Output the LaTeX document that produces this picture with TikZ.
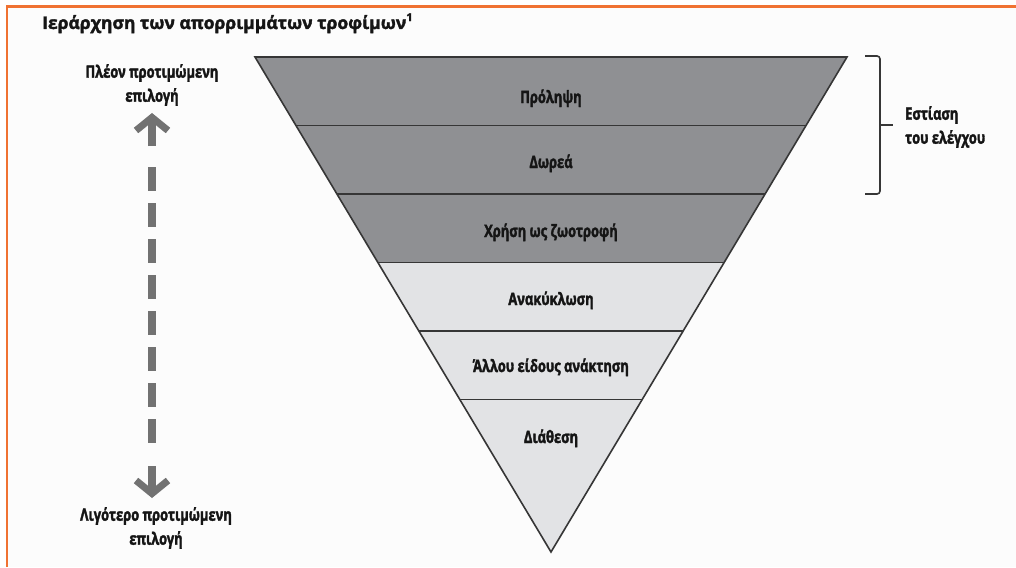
\documentclass[tikz,border=0pt]{standalone}
\usepackage{fontspec}
\setmainfont{Open Sans}
\newfontfamily\titlefont[FakeBold=2]{Open Sans}
\newfontfamily\condfont[FakeStretch=0.76,FakeBold=2]{Open Sans}
\usetikzlibrary{calc,arrows.meta}
\definecolor{bandDark}{HTML}{8F9093}
\definecolor{bandLight}{HTML}{E2E3E5}
\definecolor{edge}{HTML}{363636}
\definecolor{frameOrange}{HTML}{F07232}
\definecolor{arrowGray}{HTML}{727272}
\definecolor{ink}{HTML}{151515}
\tikzset{
  bandlabel/.style={anchor=base, text=ink, inner sep=0pt, font=\condfont\bfseries\fontsize{17}{25}\selectfont},
  sidelabel/.style={text=ink, inner sep=0pt, align=center, font=\condfont\bfseries\fontsize{17}{24}\selectfont},
  bandline/.style={draw=edge, line width=1.6pt},
  frame/.style={draw=frameOrange, line width=2.4pt},
  stem/.style={draw=arrowGray, line width=8pt},
  dashstem/.style={draw=arrowGray, line width=8pt, dash pattern=on 24pt off 12pt},
  tip/.style={-{Straight Barb[length=13pt,width=32pt,line width=7pt]}},
  bracket/.style={draw=edge, line width=1.6pt, rounded corners=3pt},
}
\begin{document}
\begin{tikzpicture}[x=1pt,y=-1pt]
\useasboundingbox (0,0) rectangle (1016,567);
\fill[white] (0,0) rectangle (1016,567);
\fill[black!1] (7,6.5) rectangle (1016,567);
\draw[frame] (7,567) -- (7,6.5) -- (1016,6.5);

% title
\node[anchor=base west, inner sep=0pt, text=ink, font=\titlefont\bfseries\fontsize{17.5}{20}\selectfont] (title) at (42,29)
  {Ιεράρχηση των απορριμμάτων τροφίμων\raisebox{0.45em}{\fontsize{11}{12}\selectfont 1}};

% inverted triangle
\coordinate (A) at (255,57);
\coordinate (B) at (847,57);
\coordinate (C) at (551,552);
\foreach \k/\t in {0/0,1/0.13838,2/0.27677,3/0.41515,4/0.55354,5/0.69192}{
  \coordinate (L\k) at ($(A)!\t!(C)$);
  \coordinate (R\k) at ($(B)!\t!(C)$);
}
\fill[bandDark] (L0) -- (R0) -- (R3) -- (L3) -- cycle;
\fill[bandLight] (L3) -- (R3) -- (C) -- cycle;
\foreach \k in {1,...,5}{ \draw[bandline] (L\k) -- (R\k); }
\draw[bandline, line join=miter] (A) -- (B) -- (C) -- cycle;

\node[bandlabel] (b1) at (551,103) {Πρόληψη};
\node[bandlabel] (b2) at (551,168) {Δωρεά};
\node[bandlabel] (b3) at (551,237) {Χρήση ως ζωοτροφή};
\node[bandlabel] (b4) at (551,305) {Ανακύκλωση};
\node[bandlabel] (b5) at (551,372) {Άλλου είδους ανάκτηση};
\node[bandlabel] (b6) at (551,443) {Διάθεση};

% preference arrow
\node[sidelabel] (more) at (152,85) {Πλέον προτιμώμενη\\επιλογή};
\node[sidelabel] (less) at (156,528) {Λιγότερο προτιμώμενη\\επιλογή};
\coordinate (topTip) at (152,113);
\coordinate (topEnd) at (152,146);
\coordinate (dashA) at (152,167);
\coordinate (dashB) at (152,443);
\coordinate (botStart) at (152,466);
\coordinate (botTip) at (152,498);
\draw[stem, tip] (topEnd) -- (topTip);
\draw[dashstem] (dashA) -- (dashB);
\draw[stem, tip] (botStart) -- (botTip);

% bracket
\coordinate (brT) at (865,56);
\coordinate (brB) at (865,194);
\coordinate (brM) at (893,125);
\draw[bracket] (brT) -- (880,56) -- (880,194) -- (brB);
\draw[bracket] (880,125) -- (brM);
\node[sidelabel, anchor=west, align=left] (focus) at (905,127) {Εστίαση\\του ελέγχου};
\end{tikzpicture}
\end{document}
